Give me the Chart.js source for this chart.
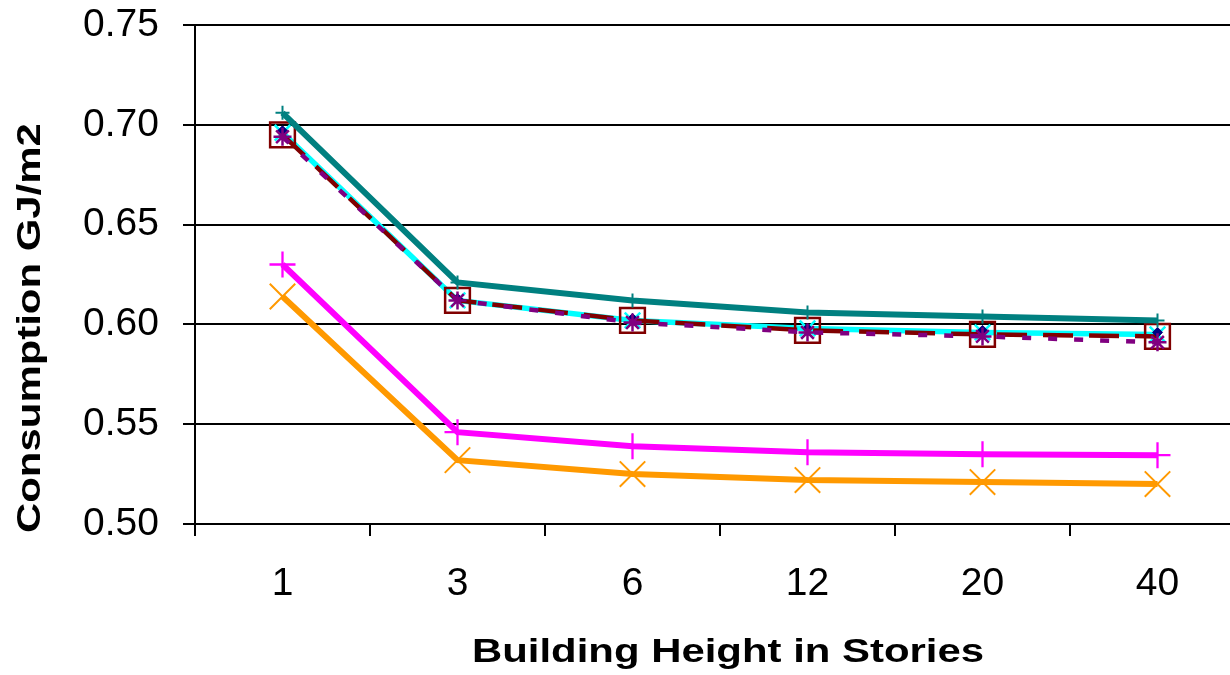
<!DOCTYPE html>
<html>
<head>
<meta charset="utf-8">
<script src="https://cdn.jsdelivr.net/npm/chart.js@4.4.0/dist/chart.umd.min.js"></script>
<style>
  html, body { margin: 0; padding: 0; background: #fff; overflow: hidden; width: 1230px; height: 675px; }
  canvas { display: block; }
</style>
</head>
<body>
<canvas id="c" width="1265" height="675"></canvas>
<script>
// Building heights (stories) on the category axis
const stories = ['1', '3', '6', '12', '20', '40'];

// Energy consumption per floor area, GJ/m2
const tealSeries    = [0.706, 0.621, 0.612, 0.606, 0.604, 0.602];
const navySeries    = [0.697, 0.613, 0.603, 0.598, 0.597, 0.596];
const cyanSeries    = [0.696, 0.612, 0.602, 0.598, 0.596, 0.595];
const darkRedSeries = [0.695, 0.612, 0.602, 0.597, 0.595, 0.594];
const purpleSeries  = [0.694, 0.612, 0.601, 0.596, 0.594, 0.591];
const magentaSeries = [0.630, 0.546, 0.539, 0.536, 0.535, 0.5345];
const orangeSeries  = [0.614, 0.532, 0.525, 0.522, 0.521, 0.520];

// Value axis ticks
const yTicks = [0.50, 0.55, 0.60, 0.65, 0.70, 0.75];

const xTitle = 'Building Height in Stories';
const yTitle = 'Consumption GJ/m2';

// Bold axis titles, drawn slightly widened
const axisTitles = {
  id: 'axisTitles',
  afterDraw(chart) {
    const ctx = chart.ctx;
    ctx.save();
    ctx.fillStyle = '#000';
    ctx.font = "bold 33px 'Liberation Sans', Arial, sans-serif";
    ctx.textBaseline = 'alphabetic';

    ctx.save();
    ctx.translate(728, 662);
    ctx.scale(1.27, 1);
    ctx.textAlign = 'center';
    ctx.fillText(xTitle, 0, 0);
    ctx.restore();

    ctx.save();
    ctx.translate(39.5, 533);
    ctx.rotate(-Math.PI / 2);
    ctx.scale(1.27, 1);
    ctx.textAlign = 'left';
    ctx.fillText(yTitle, 0, 0);
    ctx.restore();

    ctx.restore();
  }
};

function lineSet(data, color, width, opts) {
  return Object.assign({
    data: data,
    borderColor: color,
    borderWidth: width,
    pointBorderColor: color,
    pointBackgroundColor: color,
    tension: 0,
    fill: false
  }, opts);
}

const datasets = [
  lineSet(tealSeries, '#008080', 6, { order: 0, pointStyle: 'cross', pointRadius: 7, pointBorderWidth: 2 }),
  lineSet(magentaSeries, '#FF00FF', 6, { order: 1, pointStyle: 'cross', pointRadius: 13, pointBorderWidth: 2.3 }),
  lineSet(orangeSeries, '#FF9900', 6, { order: 2, pointStyle: 'crossRot', pointRadius: 18, pointBorderWidth: 2 }),
  lineSet(purpleSeries, '#800080', 4.5, { order: 3, borderDash: [9, 17], pointStyle: 'star', pointRadius: 9, pointBorderWidth: 2.5 }),
  lineSet(navySeries, '#000080', 3, { order: 4, showLine: false, pointStyle: 'rectRot', pointRadius: 5, pointBorderWidth: 1 }),
  lineSet(darkRedSeries, '#800000', 4.5, { order: 5, borderDash: [30, 16], pointStyle: 'rect', pointRadius: 17.5, pointBorderWidth: 2.5, pointBackgroundColor: 'rgba(0,0,0,0)' }),
  lineSet(cyanSeries, '#00FFFF', 5.5, { order: 6, pointStyle: 'crossRot', pointRadius: 11, pointBorderWidth: 2.5 })
];

new Chart(document.getElementById('c'), {
  type: 'line',
  data: { labels: stories, datasets: datasets },
  options: {
    responsive: false,
    animation: false,
    devicePixelRatio: 1,
    layout: { padding: { top: 25, right: 15, left: 0, bottom: 0 } },
    plugins: { legend: { display: false }, tooltip: { enabled: false } },
    scales: {
      x: {
        type: 'category',
        offset: true,
        grid: {
          display: true,
          drawOnChartArea: false,
          drawTicks: true,
          offset: true,
          tickLength: 12,
          color: '#000',
          lineWidth: 2
        },
        border: { display: true, color: '#000', width: 2 },
        ticks: {
          color: '#000',
          padding: 25,
          maxRotation: 0,
          font: { family: "'Liberation Sans', Arial, sans-serif", size: 39 }
        },
        afterFit(scale) {
          scale.height = 151;
          scale.paddingLeft = 0;
          scale.paddingRight = 0;
        }
      },
      y: {
        min: 0.5,
        max: 0.75,
        afterBuildTicks(scale) { scale.ticks = yTicks.map(v => ({ value: v })); },
        grid: {
          color: '#000',
          lineWidth: 2,
          drawTicks: true,
          tickLength: 12
        },
        border: { display: true, color: '#000', width: 2 },
        ticks: {
          color: '#000',
          padding: 24,
          font: { family: "'Liberation Sans', Arial, sans-serif", size: 39 },
          callback: v => Number(v).toFixed(2)
        },
        afterFit(scale) {
          scale.width = 195;
          scale.paddingTop = 0;
          scale.paddingBottom = 0;
        }
      }
    }
  },
  plugins: [axisTitles]
});
</script>
</body>
</html>
